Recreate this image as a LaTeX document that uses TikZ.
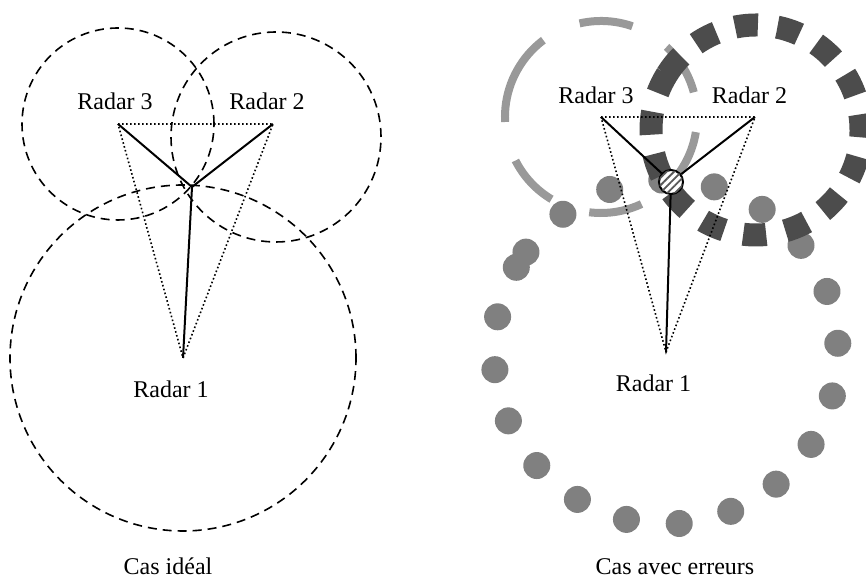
\documentclass[tikz,border=0pt]{standalone}
\usepackage{fontspec}
\setmainfont{Liberation Serif}
\usetikzlibrary{patterns.meta}

\begin{document}
\begin{tikzpicture}[
x=0.5pt, y=0.5pt,
lbl/.style={font=\fontsize{12}{14}\selectfont, anchor=base, inner sep=0pt},
ideal/.style={line width=0.8pt, dash pattern=on 4.5pt off 3pt},
tri/.style={line width=0.8pt, dash pattern=on 0.8pt off 1.2pt},
ray/.style={line width=1pt},
errone/.style={black!50, line width=13.5pt, line cap=round, dash pattern=on 0pt off 26.57pt},
errtwo/.style={black!70, line width=11.5pt, dash pattern=on 11.5pt off 9.8pt},
errthree/.style={black!40, line width=4pt, dash pattern=on 26.8pt off 20.1pt},
est/.style={circle, draw, line width=1pt, minimum size=12pt, inner sep=0pt, fill=white,
  postaction={pattern={Lines[angle=45, distance=2.6pt, line width=0.9pt]}, pattern color=black!65}}
]
\useasboundingbox (0,0) rectangle (866,581);

% cas ideal
\coordinate (r1) at (183,223);
\coordinate (r2) at (273,457);
\coordinate (r3) at (118,457);
\coordinate (c2) at (276,444);
\coordinate (fix) at (192,394);
\draw[ideal] (r3) circle[radius=48pt];
\draw[ideal] (c2) circle[radius=52.5pt];
\draw[ideal] (r1) circle[radius=86.5pt];
\draw[tri] (r3) -- (r2) -- (r1) -- cycle;
\draw[ray] (r3) -- (fix) -- (r2) (fix) -- (r1);
\node[lbl] (l3) at (115,471) {Radar 3};
\node[lbl] (l2) at (267,471) {Radar 2};
\node[lbl] (l1) at (171,183) {Radar 1};
\node[lbl] (cas1) at (168,6) {Cas idéal};

% cas avec erreurs
\coordinate (s1) at (666,229);
\coordinate (s2) at (755,464);
\coordinate (s3) at (601,464);
\coordinate (d2) at (756,451);
\draw[errone] (s1) ++(150.5:86pt) arc[start angle=150.5, delta angle=360, radius=86pt];
\draw[errthree] (s3) ++(151:48pt) arc[start angle=151, delta angle=360, radius=48pt];
\draw[errtwo] (d2) ++(148:52.5pt) arc[start angle=148, delta angle=-360, radius=52.5pt];
\node[est] (pos) at (671,399) {};
\draw[tri] (s3) -- (s2) -- (s1) -- cycle;
\draw[ray] (s3) -- (pos) (s2) -- (pos) (s1) -- (pos);
\node[lbl] (m3) at (596,477) {Radar 3};
\node[lbl] (m2) at (749.5,477) {Radar 2};
\node[lbl] (m1) at (653.5,189) {Radar 1};
\node[lbl] (cas2) at (675,6) {Cas avec erreurs};
\end{tikzpicture}
\end{document}
